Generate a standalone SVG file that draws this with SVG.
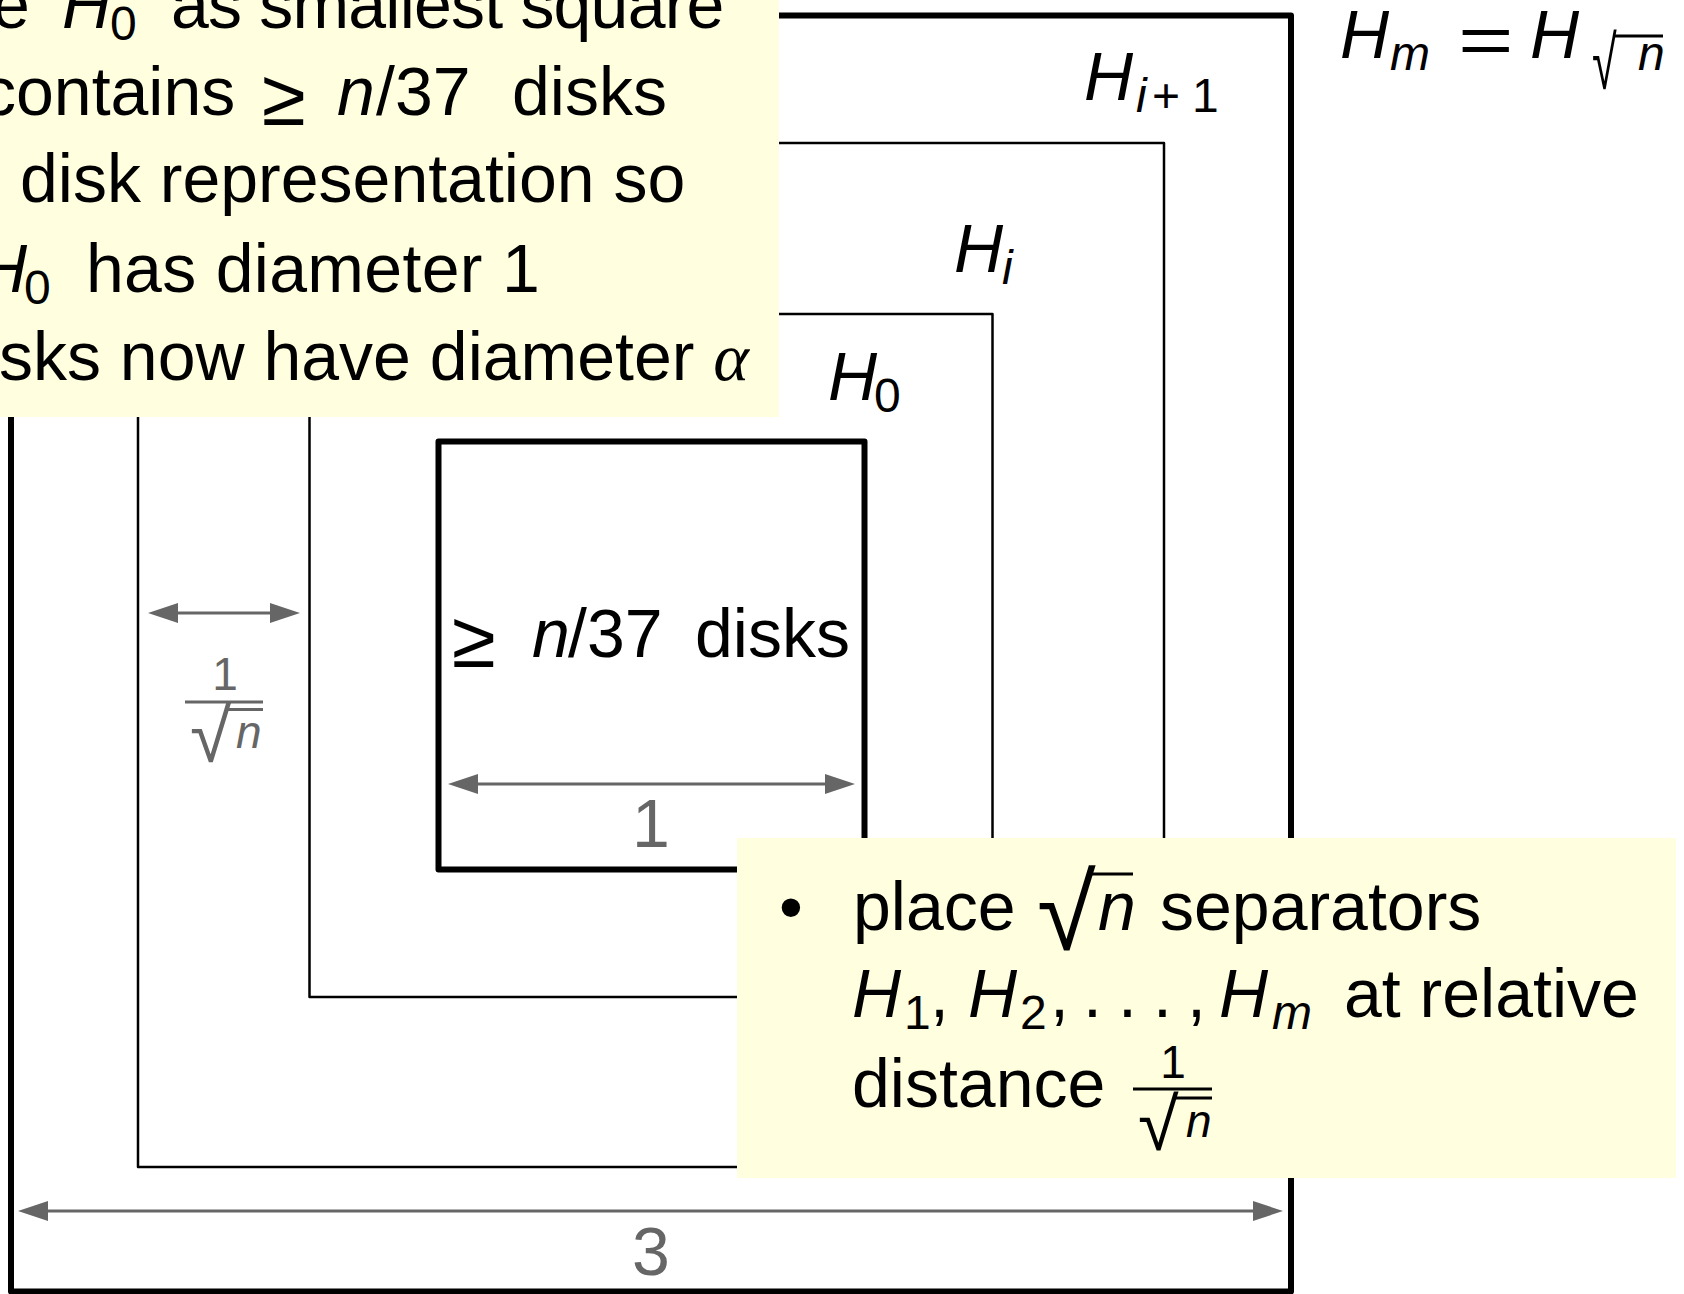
<svg xmlns="http://www.w3.org/2000/svg" width="1684" height="1294" viewBox="0 0 1684 1294">
<defs>
<style>
.t{font-family:"Liberation Sans",Arial,sans-serif;font-size:68px;fill:#000}
.i{font-style:italic}
.sub{font-size:48px}
.sm{font-size:46px}
.ge{font-size:80px}
.g{fill:#666}
.a{font-family:"Liberation Serif",serif;font-style:italic}
.thick{fill:none;stroke:#000;stroke-width:6;stroke-linejoin:round}
.thin{fill:none;stroke:#000;stroke-width:2.5;stroke-linejoin:round}
.dim{fill:none;stroke:#666;stroke-width:3;marker-start:url(#ah);marker-end:url(#ah)}
.bar{stroke:#000;stroke-width:3}
.gbar{stroke:#666;stroke-width:3}
.box{fill:#FFFFE0}
</style>
<marker id="ah" markerUnits="userSpaceOnUse" markerWidth="30" markerHeight="20" refX="20" refY="10" orient="auto-start-reverse" viewBox="0 0 30 20" overflow="visible">
<path d="M0,0 L30,10 L0,20 Z" fill="#666"/>
</marker>
</defs>
<rect width="1684" height="1294" fill="#fff"/>

<g id="H_m"><rect class="thick" x="11" y="15.5" width="1280" height="1276"/></g>
<g id="H_i1"><rect class="thin" x="138" y="143" width="1026" height="1024"/></g>
<g id="H_i"><rect class="thin" x="309.5" y="314" width="683" height="683"/></g>
<g id="H_0"><rect class="thick" x="438.5" y="441.5" width="426" height="428"/></g>

<g id="connectors">
<path class="dim" d="M158,613 H290"/>
<path class="dim" d="M458,784 H845"/>
<path class="dim" d="M28,1211 H1273"/>
</g>

<g id="labels">
<text class="t" x="1340" y="58"><tspan class="i">H</tspan><tspan class="i sub" x="1390" y="70">m</tspan></text>
<text class="t" transform="translate(1458,64) scale(1.4,1)">=</text>
<text class="t i" x="1530" y="58">H</text>
<text class="t" style="font-size:75px" transform="translate(1592,89) scale(0.6,1)">√</text>
<line class="bar" x1="1613" y1="36" x2="1663" y2="36"/>
<text class="t i sub" x="1638" y="70">n</text>

<text class="t" x="1084" y="100"><tspan class="i">H</tspan><tspan class="sub i" x="1136" y="112">i</tspan><tspan class="sub" x="1152" y="112">+</tspan><tspan class="sub" x="1192" y="112">1</tspan></text>
<text class="t" x="954" y="272"><tspan class="i">H</tspan><tspan class="i sub" x="1002" y="284">i</tspan></text>
<text class="t" x="828" y="400"><tspan class="i">H</tspan><tspan class="sub" x="874" y="412">0</tspan></text>

<text class="t" y="657"><tspan class="ge" x="452" y="667">≥</tspan><tspan class="i" x="532" y="657">n</tspan><tspan x="568">/37</tspan><tspan x="695">disks</tspan></text>

<text class="t g sm" x="225" y="690" text-anchor="middle">1</text>
<line class="gbar" x1="185" y1="702" x2="263" y2="702"/>
<text class="t g" style="font-size:75px" x="190" y="762">√</text>
<line class="gbar" x1="226" y1="709.5" x2="263" y2="709.5"/>
<text class="t g sm i" x="236" y="748">n</text>

<text class="t g" x="651" y="847" text-anchor="middle">1</text>
<text class="t g" x="651" y="1275" text-anchor="middle">3</text>
</g>

<g id="note1">
<rect class="box" x="0" y="0" width="779" height="417"/>
<text class="t" y="28"><tspan x="-8">e</tspan><tspan class="i" x="62">H</tspan><tspan class="sub" x="110" y="40">0</tspan><tspan x="171" y="28" style="letter-spacing:-0.8px">as smallest square</tspan></text>
<text class="t" y="115"><tspan x="-18">contains</tspan><tspan class="ge" x="262" y="125">≥</tspan><tspan class="i" x="337" y="115">n</tspan><tspan x="376">/37</tspan><tspan x="512">disks</tspan></text>
<text class="t" x="20" y="202">disk representation so</text>
<text class="t" y="292"><tspan class="i" x="-22">H</tspan><tspan class="sub" x="24" y="304">0</tspan><tspan x="86" y="292" style="letter-spacing:0.3px">has diameter 1</tspan></text>
<text class="t" x="749" y="380" text-anchor="end">sks now have diameter <tspan class="a">α</tspan></text>
</g>

<g id="note2">
<rect class="box" x="737" y="838" width="939" height="340"/>
<text class="t" x="779" y="930">•</text>
<text class="t" x="853" y="930">place</text>
<text class="t" style="font-size:107px" x="1037" y="950">√</text>
<line class="bar" x1="1089" y1="874" x2="1133" y2="874"/>
<text class="t i" x="1098" y="930">n</text>
<text class="t" x="1160" y="930">separators</text>

<text class="t" y="1017"><tspan class="i" x="852">H</tspan><tspan class="sub" x="904" y="1029">1</tspan><tspan x="930" y="1017">,</tspan><tspan class="i" x="968">H</tspan><tspan class="sub" x="1020" y="1029">2</tspan><tspan x="1050" y="1017">,</tspan><tspan x="1083">.</tspan><tspan x="1118">.</tspan><tspan x="1153">.</tspan><tspan x="1187">,</tspan><tspan class="i" x="1219">H</tspan><tspan class="i sub" x="1272" y="1029">m</tspan><tspan x="1344" y="1017">at relative</tspan></text>

<text class="t" x="852" y="1107">distance</text>
<text class="t sm" x="1173" y="1078" text-anchor="middle">1</text>
<line class="bar" x1="1133" y1="1089" x2="1212" y2="1089"/>
<text class="t" style="font-size:74px" x="1138" y="1150">√</text>
<line class="bar" x1="1174" y1="1098" x2="1212" y2="1098"/>
<text class="t sm i" x="1186" y="1137">n</text>
</g>
</svg>
